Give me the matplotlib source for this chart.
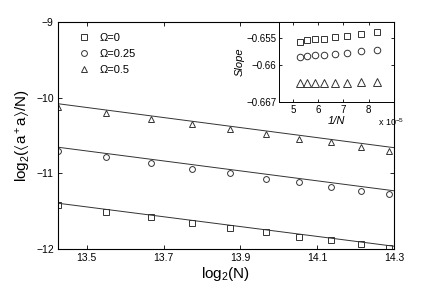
import matplotlib
matplotlib.use('Agg')
import numpy as np
import matplotlib.pyplot as plt

plt.rcParams['font.family'] = ['Liberation Sans', 'DejaVu Sans']
plt.rcParams['mathtext.fontset'] = 'custom'
plt.rcParams['mathtext.rm'] = 'Liberation Sans'
plt.rcParams['mathtext.it'] = 'Liberation Sans:italic'
plt.rcParams['mathtext.fallback'] = 'stixsans'

# 主图数据: N 与 log2(<a+a>/N)
N = [11000, 12000, 13000, 14000, 15000, 16000, 17000, 18000, 19000, 20000]
y_om0 = [-11.42, -11.51, -11.58, -11.65, -11.72, -11.78, -11.84, -11.88, -11.94, -11.99]
y_om025 = [-10.70, -10.79, -10.87, -10.94, -11.00, -11.07, -11.12, -11.18, -11.23, -11.27]
y_om05 = [-10.12, -10.20, -10.28, -10.35, -10.42, -10.48, -10.54, -10.59, -10.65, -10.70]
labels = ['\u03a9=0', '\u03a9=0.25', '\u03a9=0.5']

# 拟合直线: 左端 (N=11000) 的值和斜率
fit_left = [-11.395, -10.655, -10.08]
fit_slope = [-0.650, -0.658, -0.664]

# 插图数据: 1/N 与斜率
N_in = [12000, 13000, 14000, 15000, 16000, 17000, 18000, 19000]
s_om0 = [-0.6538, -0.6542, -0.6546, -0.6548, -0.6551, -0.6552, -0.6554, -0.6557]
s_om025 = [-0.6572, -0.6574, -0.6578, -0.6580, -0.6581, -0.6582, -0.6584, -0.6585]
s_om05 = [-0.6632, -0.6633, -0.6634, -0.6634, -0.6635, -0.6635, -0.6635, -0.6635]

markers = ['s', 'o', '^']
msizes = [3.7, 4.2, 4.6]

fig = plt.figure(figsize=(4.36, 2.89), dpi=100)
ax = fig.add_axes([58/436, 1 - 249/289, 336/436, 227/289])

x = np.log2(N)
x0 = np.log2(11000)
xs = np.array([x0, 14.3])
for ys, m, ms, lab, b, k in zip([y_om0, y_om025, y_om05], markers, msizes, labels,
                                fit_left, fit_slope):
    ax.plot(x, ys, m, mfc='none', mec='#333333', ms=ms, mew=0.7, label=lab)
    ax.plot(xs, b + k * (xs - x0), '-', color='#333333', lw=0.7)

ax.set_xlim(x0, 14.3)
ax.set_ylim(-12, -9)
ax.set_xticks([13.5, 13.7, 13.9, 14.1, 14.3])
ax.set_xticklabels(['13.5', '13.7', '13.9', '14.1', '14.3'])
ax.set_yticks([-12, -11, -10, -9])
ax.tick_params(direction='in', top=True, right=True, labelsize=7.5, length=3, width=0.6, pad=3)
for s in ax.spines.values():
    s.set_linewidth(0.8)
ax.set_xlabel('log$_2$(N)', fontsize=11, labelpad=1)
ax.set_ylabel(r'log$_2$($\langle$a$^+$a$\rangle$/N)', fontsize=11, labelpad=2)
ax.legend(loc='upper left', frameon=False, fontsize=8, handletextpad=0.6,
          borderaxespad=0.6, labelspacing=0.55, handlelength=1.5,
          bbox_to_anchor=(0.02, 1.0))

# 插图
ins = fig.add_axes([279/436, 1 - 102/289, 115/436, 80/289])
xi = 1e5 / np.array(N_in)
for ys, m, ms in zip([s_om0, s_om025, s_om05], markers, msizes):
    ins.plot(xi, ys, m, mfc='none', mec='#333333', ms=ms + 0.5, mew=0.7)
ins.set_xlim(4.45, 9.0)
ins.set_ylim(-0.667, -0.652)
ins.set_xticks([5, 6, 7, 8])
ins.set_yticks([-0.667, -0.66, -0.655])
ins.set_yticklabels(['\u22120.667', '\u22120.66', '\u22120.655'])
ins.tick_params(direction='in', top=True, right=True, labelsize=7, length=2.5, width=0.6, pad=2)
for s in ins.spines.values():
    s.set_linewidth(0.7)
ins.set_xlabel('1/N', fontsize=8, style='italic', labelpad=1)
ins.set_ylabel('Slope', fontsize=8, style='italic', labelpad=1)
fig.text(391/436, 1 - 122/289, 'x 10$^{-5}$', fontsize=6.5, ha='center', va='center')

fig.savefig('out.png', dpi=100)
